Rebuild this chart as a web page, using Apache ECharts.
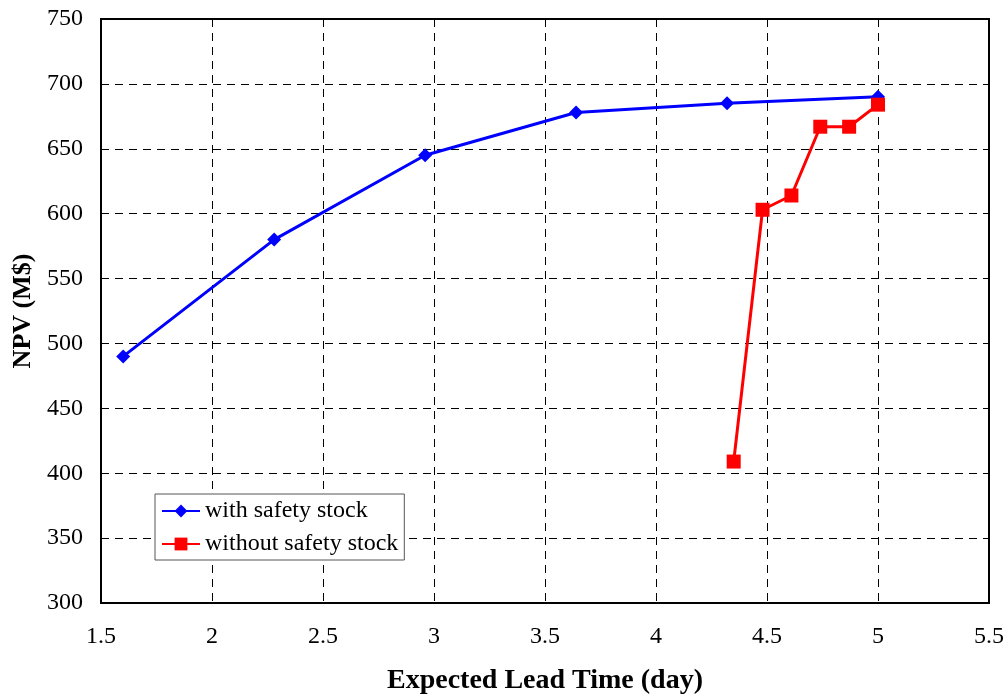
<!DOCTYPE html>
<html lang="en">
<head>
    <meta charset="UTF-8">
    <title>npv lead time</title>
    <script type="text/javascript" src="https://cdnjs.cloudflare.com/ajax/libs/echarts/6.0.0/echarts.min.js"></script>
    <style>body{margin:0;background:#fff}</style>
</head>
<body>
    <div id="main" style="width: 1008px; height: 696px"></div>
    <script type="text/javascript">
        var withLead = [1.6, 2.28, 2.96, 3.64, 4.32, 5.0];
        var withNpv = [490, 580, 645, 678, 685, 690];
        var withoutLead = [4.35, 4.48, 4.61, 4.74, 4.87, 5.0];
        var withoutNpv = [409, 603, 614, 667, 667, 684];

        function pairs(xs, ys) {
            return xs.map(function (x, i) { return [x, ys[i]]; });
        }

        var myChart = echarts.init(document.getElementById('main'));
        var serif = '"Liberation Serif", "DejaVu Serif", serif';

        option = {
            textStyle: {fontFamily: serif},
            grid: {
                left: 101, top: 19, right: 19, bottom: 93,
                outerBoundsMode: 'none',
                containLabel: false,
                show: true, borderColor: '#000', borderWidth: 2
            },
            legend: {
                orient: 'vertical',
                left: 155, top: 494,
                backgroundColor: '#fff',
                borderColor: '#555', borderWidth: 1,
                padding: [5, 6, 4, 6],
                itemGap: 9,
                itemWidth: 38, itemHeight: 16,
                textStyle: {fontFamily: serif, fontSize: 24, color: '#000'},
                data: ['with safety stock', 'without safety stock']
            },
            xAxis: {
                type: 'value',
                min: 1.5, max: 5.5, interval: 0.5,
                name: 'Expected Lead Time (day)',
                nameLocation: 'middle', nameGap: 64,
                nameTextStyle: {fontFamily: serif, fontSize: 28, fontWeight: 'bold', color: '#000'},
                axisLine: {lineStyle: {color: '#000', width: 2}},
                axisTick: {show: false},
                axisLabel: {fontFamily: serif, fontSize: 24, color: '#000', margin: 22},
                splitLine: {lineStyle: {color: '#000', type: [8, 6], width: 1}}
            },
            yAxis: {
                type: 'value',
                min: 300, max: 750, interval: 50,
                name: 'NPV (M$)',
                nameLocation: 'middle', nameGap: 64,
                nameTextStyle: {fontFamily: serif, fontSize: 26, fontWeight: 'bold', color: '#000'},
                axisLine: {lineStyle: {color: '#000', width: 2}},
                axisTick: {show: false},
                axisLabel: {fontFamily: serif, fontSize: 24, color: '#000', margin: 18},
                splitLine: {lineStyle: {color: '#000', type: [8, 6], width: 1}}
            },
            series: [
                {
                    name: 'with safety stock',
                    type: 'line',
                    data: pairs(withLead, withNpv),
                    symbol: 'diamond', symbolSize: 14,
                    itemStyle: {color: '#0000ff'},
                    lineStyle: {color: '#0000ff', width: 3}
                },
                {
                    name: 'without safety stock',
                    type: 'line',
                    data: pairs(withoutLead, withoutNpv),
                    symbol: 'rect', symbolSize: 14,
                    itemStyle: {color: '#ff0000'},
                    lineStyle: {color: '#ff0000', width: 3}
                }
            ]
        };

        myChart.setOption(option);
    </script>
</body>
</html>
